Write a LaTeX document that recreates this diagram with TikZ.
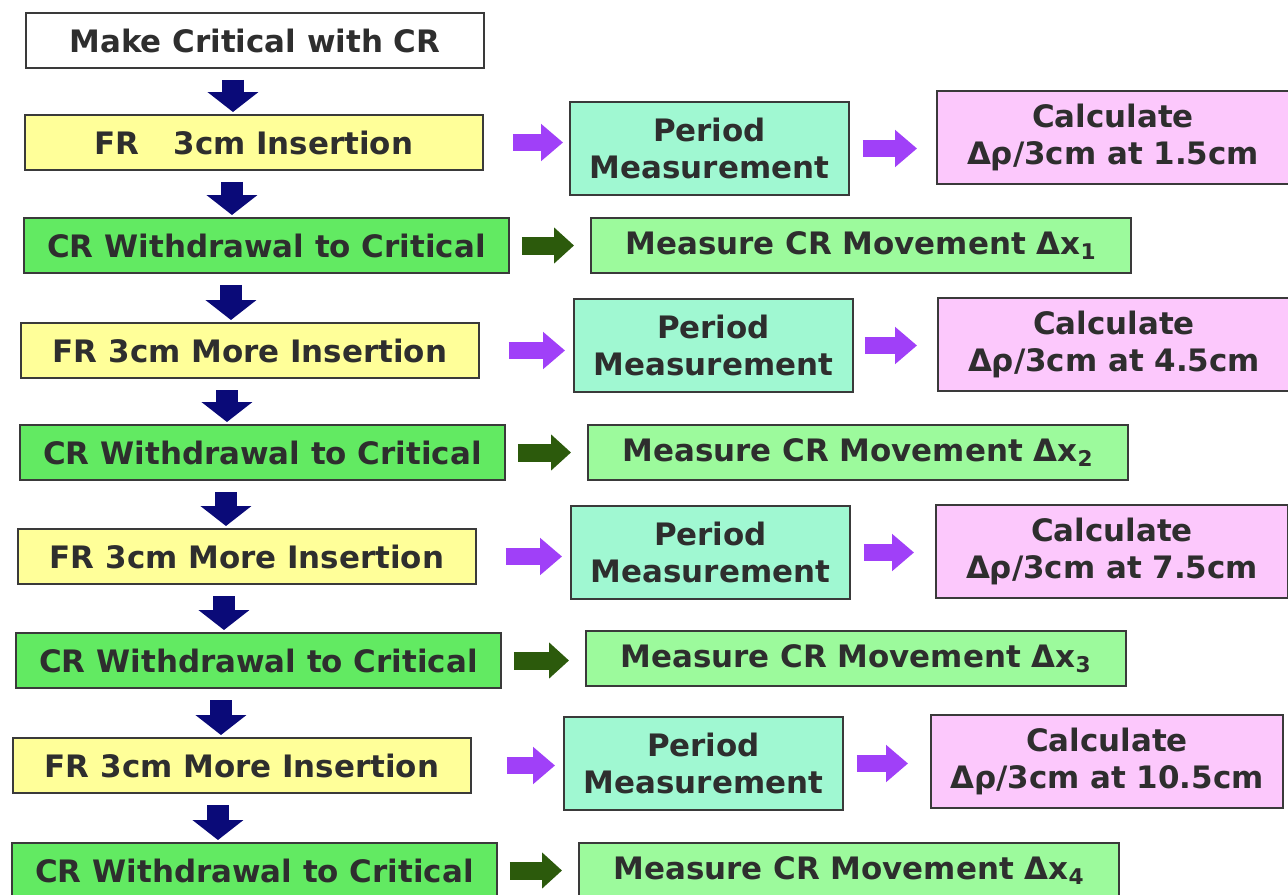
\documentclass[tikz,border=0pt]{standalone}
\usepackage{fontspec}
\setmainfont{DejaVu Sans}
\usetikzlibrary{arrows.meta}

\definecolor{boxline}{HTML}{3A3A3A}
\definecolor{boxtext}{HTML}{2E2E2E}
\definecolor{frfill}{HTML}{FFFF99}
\definecolor{crfill}{HTML}{62EA62}
\definecolor{measfill}{HTML}{9CFA9C}
\definecolor{periodfill}{HTML}{A0F8D2}
\definecolor{calcfill}{HTML}{FCC8FC}
\definecolor{downblue}{HTML}{0A0A78}
\definecolor{purplearr}{HTML}{A040F8}
\definecolor{greenarr}{HTML}{2C5A0C}

\begin{document}
\begin{tikzpicture}[x=0.02cm, y=-0.02cm,
  box/.style={draw=boxline, line width=0.04cm, text=boxtext, inner sep=0pt,
    align=center, anchor=north west, minimum height=1.1cm,
    font=\bfseries\fontsize{17.6}{21.5}\selectfont},
  startbox/.style={box, fill=white, minimum width=9.16cm},
  frbox/.style={box, fill=frfill, minimum width=9.16cm},
  crbox/.style={box, fill=crfill, minimum width=9.7cm},
  periodbox/.style={box, fill=periodfill, minimum width=5.58cm, minimum height=1.86cm},
  calcbox/.style={box, fill=calcfill, minimum width=7.04cm, minimum height=1.86cm},
  measbox/.style={box, fill=measfill, minimum width=10.8cm},
  downarr/.style={draw=downblue, line width=0.44cm,
    -{Triangle[width=1.0cm, length=0.4cm]}, shorten <=0.22cm, shorten >=0.04cm},
  purplearr/.style={draw=purplearr, line width=0.34cm,
    -{Triangle[width=0.72cm, length=0.44cm]}},
  greenarr/.style={draw=greenarr, line width=0.36cm,
    -{Triangle[width=0.7cm, length=0.4cm]}, shorten <=0.24cm, shorten >=0.32cm}
]
\clip (0,0) rectangle (1288,894);
\fill[white] (0,0) rectangle (1288,894);

\node[startbox] (make) at (25,12) {Make Critical with CR};
\node[frbox] (fr1) at (24,114) {FR\hspace{1.1em}3cm Insertion};
\node[crbox] (cr1) at (23,217) {CR Withdrawal to Critical};
\node[frbox] (fr2) at (20,322) {FR 3cm More Insertion};
\node[crbox] (cr2) at (19,424) {CR Withdrawal to Critical};
\node[frbox] (fr3) at (17,528) {FR 3cm More Insertion};
\node[crbox] (cr3) at (15,632) {CR Withdrawal to Critical};
\node[frbox] (fr4) at (12,737) {FR 3cm More Insertion};
\node[crbox] (cr4) at (11,842) {CR Withdrawal to Critical};

\node[periodbox] (period1) at (569,101) {Period\\Measurement};
\node[periodbox] (period2) at (573,298) {Period\\Measurement};
\node[periodbox] (period3) at (570,505) {Period\\Measurement};
\node[periodbox] (period4) at (563,716) {Period\\Measurement};

\node[calcbox] (calc1) at (936,90) {Calculate\\Δρ/3cm at 1.5cm};
\node[calcbox] (calc2) at (937,297) {Calculate\\Δρ/3cm at 4.5cm};
\node[calcbox] (calc3) at (935,504) {Calculate\\Δρ/3cm at 7.5cm};
\node[calcbox] (calc4) at (930,714) {Calculate\\Δρ/3cm at 10.5cm};

\node[measbox] (meas1) at (590,217) {Measure CR Movement Δx\textsubscript{1}};
\node[measbox] (meas2) at (587,424) {Measure CR Movement Δx\textsubscript{2}};
\node[measbox] (meas3) at (585,630) {Measure CR Movement Δx\textsubscript{3}};
\node[measbox] (meas4) at (578,842) {Measure CR Movement Δx\textsubscript{4}};

\draw[downarr] ([xshift=4.16cm]make.south west) -- ([xshift=4.16cm]make.south west |- fr1.north);
\draw[downarr] ([xshift=4.16cm]fr1.south west) -- ([xshift=4.16cm]fr1.south west |- cr1.north);
\draw[downarr] ([xshift=4.16cm]cr1.south west) -- ([xshift=4.16cm]cr1.south west |- fr2.north);
\draw[downarr] ([xshift=4.14cm]fr2.south west) -- ([xshift=4.14cm]fr2.south west |- cr2.north);
\draw[downarr] ([xshift=4.14cm]cr2.south west) -- ([xshift=4.14cm]cr2.south west |- fr3.north);
\draw[downarr] ([xshift=4.14cm]fr3.south west) -- ([xshift=4.14cm]fr3.south west |- cr3.north);
\draw[downarr] ([xshift=4.12cm]cr3.south west) -- ([xshift=4.12cm]cr3.south west |- fr4.north);
\draw[downarr] ([xshift=4.12cm]fr4.south west) -- ([xshift=4.12cm]fr4.south west |- cr4.north);

\draw[purplearr, shorten <=0.58cm, shorten >=0.12cm] (fr1.east) -- (fr1.east -| period1.west);
\draw[purplearr, shorten <=0.58cm, shorten >=0.16cm] (fr2.east) -- (fr2.east -| period2.west);
\draw[purplearr, shorten <=0.58cm, shorten >=0.16cm] (fr3.east) -- (fr3.east -| period3.west);
\draw[purplearr, shorten <=0.7cm, shorten >=0.16cm] (fr4.east) -- (fr4.east -| period4.west);

\draw[purplearr, shorten <=0.26cm, shorten >=0.38cm] (period1.east) -- (period1.east -| calc1.west);
\draw[purplearr, shorten <=0.22cm, shorten >=0.4cm] (period2.east) -- (period2.east -| calc2.west);
\draw[purplearr, shorten <=0.26cm, shorten >=0.42cm] (period3.east) -- (period3.east -| calc3.west);
\draw[purplearr, shorten <=0.26cm, shorten >=0.44cm] (period4.east) -- (period4.east -| calc4.west);

\draw[greenarr] (cr1.east) -- (cr1.east -| meas1.west);
\draw[greenarr] (cr2.east) -- (cr2.east -| meas2.west);
\draw[greenarr] (cr3.east) -- (cr3.east -| meas3.west);
\draw[greenarr] (cr4.east) -- (cr4.east -| meas4.west);
\end{tikzpicture}
\end{document}
